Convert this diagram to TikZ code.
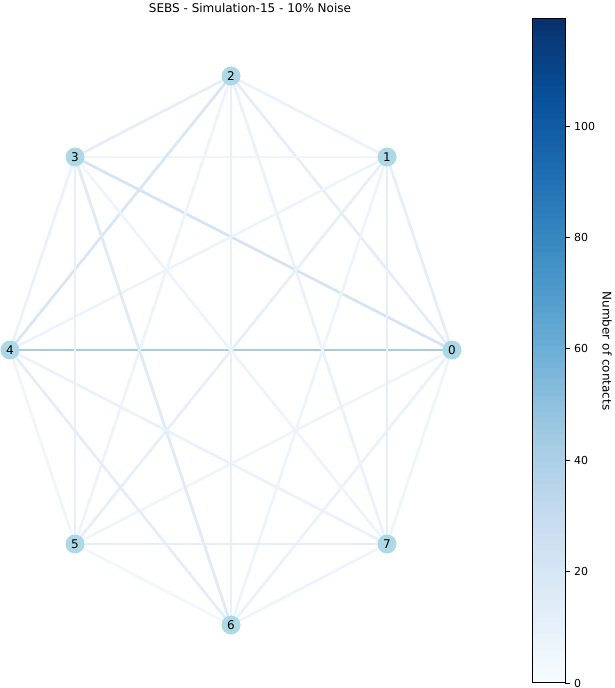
\documentclass[tikz,border=0pt]{standalone}
\usepackage{fontspec}
\setmainfont{DejaVu Sans}
\definecolor{b0}{HTML}{F7FBFF}
\definecolor{b1}{HTML}{DEEBF7}
\definecolor{b2}{HTML}{C6DBEF}
\definecolor{b3}{HTML}{9ECAE1}
\definecolor{b4}{HTML}{6BAED6}
\definecolor{b5}{HTML}{4292C6}
\definecolor{b6}{HTML}{2171B5}
\definecolor{b7}{HTML}{08519C}
\definecolor{b8}{HTML}{08306B}
\definecolor{b9}{HTML}{08306B}
\definecolor{nodeblue}{HTML}{ADD8E6}
\pgfdeclarelayer{bg}
\pgfsetlayers{bg,main}
\newcommand{\setblue}[2]{% #1 weight, #2 colour name
  \pgfmathsetmacro\etv{min(#1/119.2*8,7.999)}%
  \pgfmathtruncatemacro\eseg{floor(\etv)}%
  \pgfmathtruncatemacro\esegn{\eseg+1}%
  \pgfmathtruncatemacro\efr{round((\etv-\eseg)*100)}%
  \colorlet{#2}{b\esegn!\efr!b\eseg}%
}
\tikzset{
  gnode/.style={circle, fill=nodeblue, minimum size=19pt, inner sep=0pt, font=\fontsize{12}{12}\selectfont},
  edgeline/.style={line width=2.7pt},
  ticklbl/.style={anchor=west, inner sep=0pt, font=\fontsize{11}{11}\selectfont},
}
\begin{document}
\begin{tikzpicture}[x=1pt,y=-1pt]
\useasboundingbox (0,0) rectangle (614,688);
\node[font=\fontsize{12}{12}\selectfont] (title) at (250,8) {SEBS - Simulation-15 - 10\% Noise};
\node[gnode] (n0) at (452,350) {0};
\node[gnode] (n1) at (387,157) {1};
\node[gnode] (n2) at (231,76) {2};
\node[gnode] (n3) at (75,157) {3};
\node[gnode] (n4) at (10,350) {4};
\node[gnode] (n5) at (75,544) {5};
\node[gnode] (n6) at (231,625) {6};
\node[gnode] (n7) at (387,544) {7};
\begin{pgfonlayer}{bg}
\foreach \a/\b/\w in {0/1/11,0/2/12,0/3/21,0/4/42,0/5/5,0/6/8,0/7/5,
  1/2/8,1/3/5,1/4/6,1/5/10,1/6/6,1/7/11,
  2/3/11,2/4/19,2/5/6,2/6/9,2/7/8,
  3/4/8,3/5/9,3/6/15,3/7/6,
  4/5/5,4/6/12,4/7/8,
  5/6/4,5/7/11,6/7/6}{
  \setblue{\w}{ec}
  \draw[edgeline, draw=ec] (n\a.center) -- (n\b.center);
}
\end{pgfonlayer}
% colorbar
\foreach \i in {0,...,7}{
  \foreach \k in {0,...,14}{
    \pgfmathtruncatemacro\ip{\i+1}
    \pgfmathtruncatemacro\pp{round(\k/15*100)}
    \pgfmathsetmacro\ylo{683-(\i*15+\k)*5.5333}
    \pgfmathsetmacro\yhi{683-(\i*15+\k+1)*5.5333}
    \fill[b\ip!\pp!b\i] (532,\ylo+0.3) rectangle (565,\yhi-0.3);
  }
}
\node[draw=black, line width=0.8pt, minimum width=33pt, minimum height=664pt, inner sep=0pt, anchor=south west] (cbar) at (532,683) {};
\foreach \v in {0,20,...,100}{
  \pgfmathsetmacro\yv{683-\v*5.57}
  \draw[line width=0.8pt] (565,\yv) -- (570,\yv);
  \node[ticklbl] (t\v) at (574,\yv) {\v};
}
\node[rotate=-90, font=\fontsize{12}{12}\selectfont] (cblabel) at (607,351) {Number of contacts};
\end{tikzpicture}
\end{document}
